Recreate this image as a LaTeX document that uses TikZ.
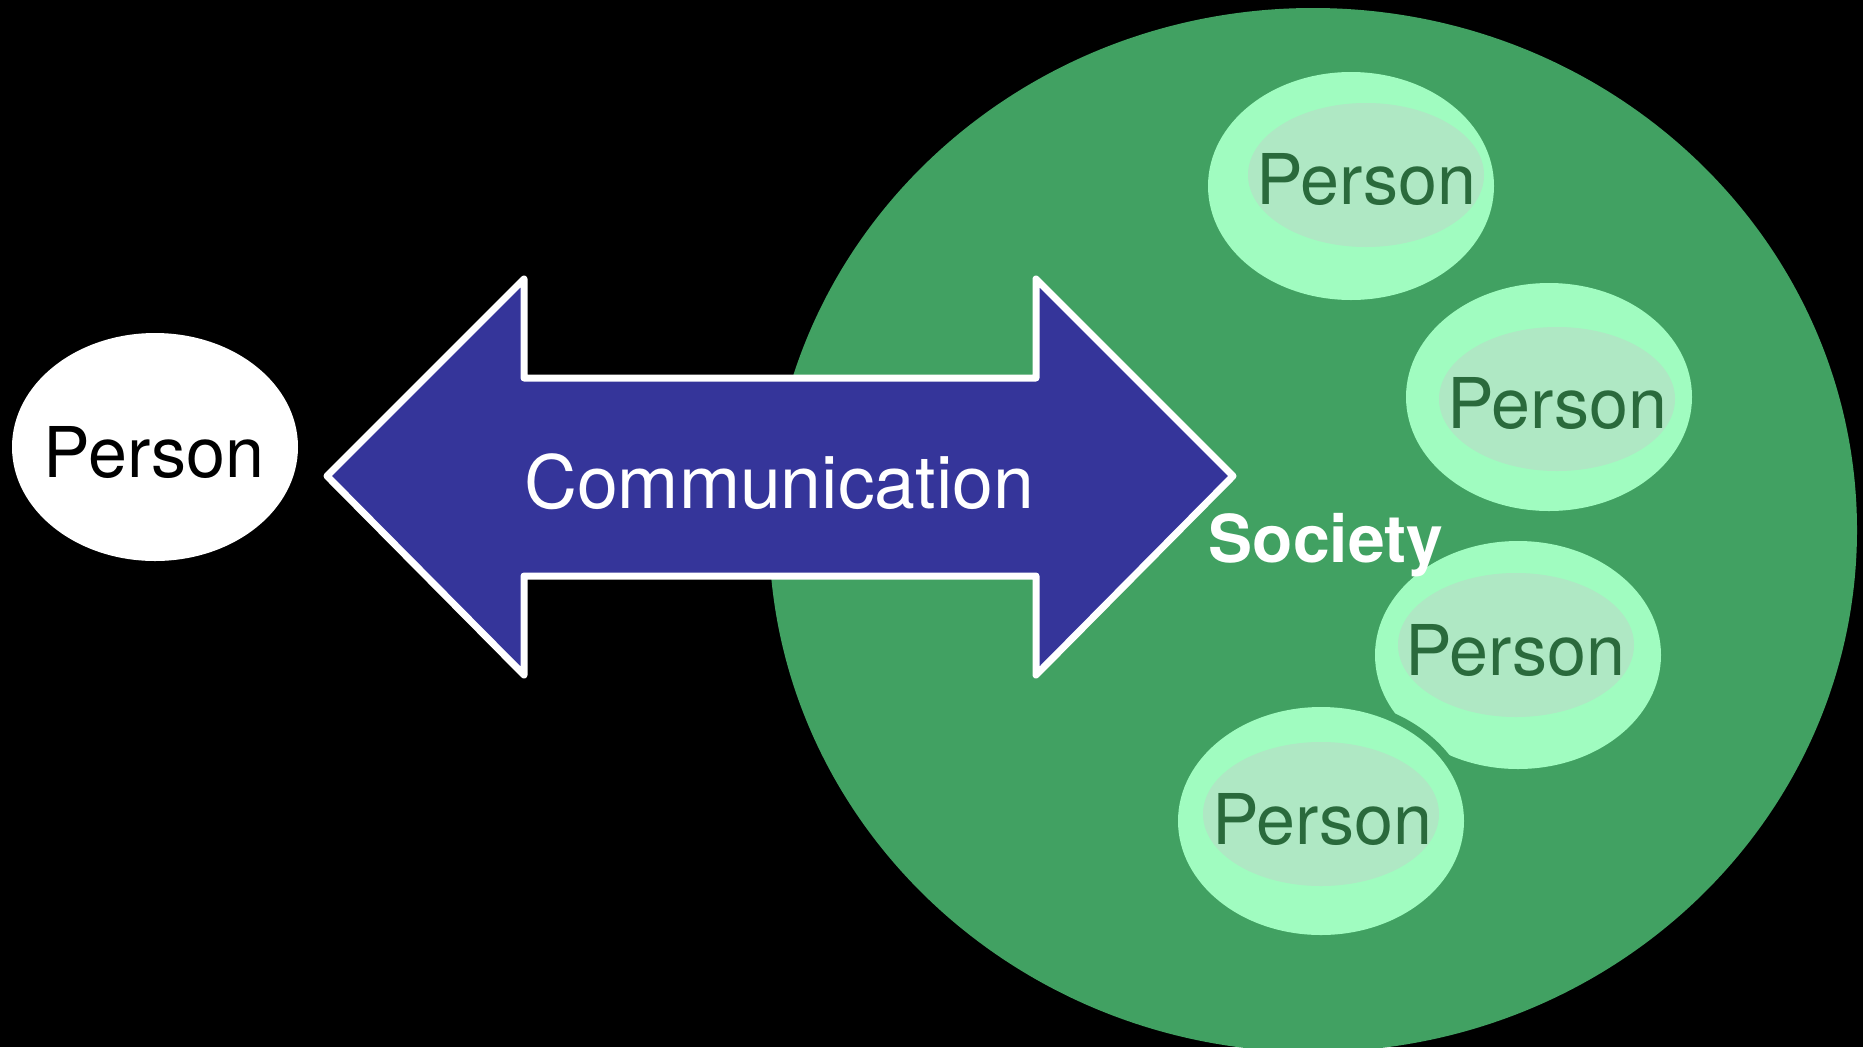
\documentclass[tikz,border=0pt]{standalone}
\usepackage{fontspec}
\setmainfont{TeX Gyre Heros}
\definecolor{bigGreen}{HTML}{41A162}
\definecolor{lightOuter}{HTML}{A0FCC0}
\definecolor{lightInner}{HTML}{AFE8C4}
\definecolor{darkText}{HTML}{2A6A3C}
\definecolor{arrowBlue}{HTML}{35359A}
\tikzset{
  halo/.style={fill=bigGreen},
  outerell/.style={fill=lightOuter},
  innerell/.style={fill=lightInner},
  personlabel/.style={anchor=base, inner sep=0pt, text=darkText, font=\fontsize{70}{80}\selectfont},
  arrowshape/.style={fill=arrowBlue, draw=white, line width=7pt, line join=round},
}
\begin{document}
\begin{tikzpicture}[x=1pt,y=-1pt]
\fill[black] (0,0) rectangle (1863,1047);
\useasboundingbox (0,0) rectangle (1863,1047);
\begin{scope}
\clip (0,0) rectangle (1863,1047);
% society circle
\fill[bigGreen] (1313,530) ellipse [x radius=544, y radius=522];
% persons in society
\foreach \ox/\oy/\ix/\iy/\tx/\ty/\nm in {1351/186/1366/175/1366/204/p1, 1549/397/1557/399/1557/428/p2, 1518/655/1516/645/1515/675/p3, 1321/821/1321/814/1322/844/p4}{
  \fill[halo] (\ox,\oy) ellipse [x radius=152, y radius=123];
  \fill[outerell] (\ox,\oy) ellipse [x radius=143, y radius=114];
  \fill[innerell] (\ix,\iy) ellipse [x radius=118, y radius=72];
  \node[personlabel] (\nm) at (\tx,\ty) {Person};
}
\end{scope}
% lone person
\fill[white] (155,447) ellipse [x radius=143, y radius=114];
\node[anchor=base, inner sep=0pt, text=black, font=\fontsize{70}{80}\selectfont] (lone) at (154,477) {Person};
% communication arrow
\draw[arrowshape] (327,476) -- (524,279) -- (524,378) -- (1036,378) -- (1036,279) -- (1233,476) -- (1036,675) -- (1036,576) -- (524,576) -- (524,675) -- cycle;
\node[anchor=base, inner sep=0pt, text=white, font=\fontsize{73.4}{80}\selectfont] (comm) at (779,508) {Communication};
% society label
\node[anchor=base, inner sep=0pt, text=white, font=\fontsize{66}{80}\selectfont\bfseries] (society) at (1326,562) {Society};
\end{tikzpicture}
\end{document}
